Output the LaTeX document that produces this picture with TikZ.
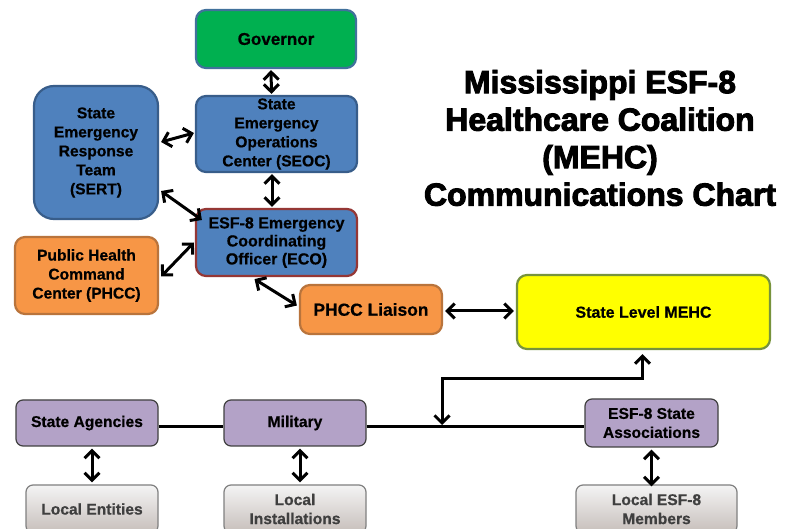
\documentclass[tikz,border=0pt]{standalone}
\usepackage{fontspec}
\setmainfont[BoldFeatures={FakeBold=0.6}]{Liberation Sans}
\newfontfamily\titlefont[BoldFeatures={FakeBold=3}]{Liberation Sans}
\usetikzlibrary{arrows.meta}
\definecolor{govgreen}{HTML}{00B050}
\definecolor{govline}{HTML}{41719C}
\definecolor{bluefill}{HTML}{4F81BD}
\definecolor{blueline}{HTML}{385D8A}
\definecolor{redline}{HTML}{953735}
\definecolor{orfill}{HTML}{F79646}
\definecolor{orline}{HTML}{B9743C}
\definecolor{yelfill}{HTML}{FFFF00}
\definecolor{yelline}{HTML}{77933C}
\definecolor{purfill}{HTML}{B3A2C7}
\definecolor{purline}{HTML}{404040}
\definecolor{graytop}{HTML}{F4F4F4}
\definecolor{graybot}{HTML}{C6BEBA}
\definecolor{grayline}{HTML}{808080}
\definecolor{graytext}{HTML}{3F3F3F}
\tikzset{
  box/.style={rectangle, rounded corners=10pt, line width=2.2pt, align=center,
    inner sep=2pt, font=\fontsize{15.6}{19}\selectfont\bfseries},
  govbox/.style={box, fill=govgreen, draw=govline, font=\fontsize{17}{20}\selectfont\bfseries},
  bluebox/.style={box, fill=bluefill, draw=blueline},
  ecobox/.style={box, fill=bluefill, draw=redline, font=\fontsize{16}{18}\selectfont\bfseries},
  orbox/.style={box, fill=orfill, draw=orline},
  yelbox/.style={box, fill=yelfill, draw=yelline},
  purbox/.style={box, fill=purfill, draw=purline, line width=1.2pt, rounded corners=7pt},
  graybox/.style={box, top color=graytop, bottom color=graybot, draw=grayline, line width=1.2pt,
    rounded corners=7pt, text=graytext},
  tipx/.tip={Straight Barb[length=7.5pt,width=15pt,line width=3pt]},
  dbl/.style={line width=3pt, tipx-tipx},
  bus/.style={line width=3pt}
}
\begin{document}
\begin{tikzpicture}[x=1pt,y=-1pt]
\useasboundingbox (0,0) rectangle (788,529);
\clip (0,0) rectangle (788,529);
\fill[white] (0,0) rectangle (788,529);

% title
\node[align=center, font=\titlefont\fontsize{32}{37.5}\selectfont\bfseries, inner sep=0pt] (title) at (600,138)
  {Mississippi ESF-8\\Healthcare Coalition\\(MEHC)\\Communications Chart};

% upper boxes
\node[govbox, minimum width=160pt, minimum height=58pt] (gov) at (276,39) {Governor};
\node[bluebox, minimum width=161pt, minimum height=76pt] (seoc) at (276.5,134)
  {State\\Emergency\\Operations\\Center (SEOC)};
\node[bluebox, rounded corners=20pt, minimum width=124pt, minimum height=133pt] (sert) at (96,152.5)
  {State\\Emergency\\Response\\Team\\(SERT)};
\node[ecobox, minimum width=161pt, minimum height=67pt] (eco) at (276.5,242.5)
  {ESF-8 Emergency\\Coordinating\\Officer (ECO)};
\node[orbox, minimum width=143pt, minimum height=77pt] (phcc) at (86.5,275.5)
  {Public Health\\Command\\Center (PHCC)};
\node[orbox, minimum width=142pt, minimum height=49pt, font=\fontsize{17.4}{20}\selectfont\bfseries] (liaison) at (371,309.5)
  {PHCC Liaison};
\node[yelbox, minimum width=253pt, minimum height=74pt, font=\fontsize{16}{18}\selectfont\bfseries] (mehc) at (643.5,312)
  {State Level MEHC};

% lower boxes
\node[purbox, minimum width=142pt, minimum height=46pt] (sa) at (87,423) {State Agencies};
\node[purbox, minimum width=142pt, minimum height=46pt] (mil) at (295,423) {Military};
\node[purbox, minimum width=133pt, minimum height=48pt] (esf) at (651.5,423) {ESF-8 State\\Associations};
\node[graybox, minimum width=132pt, minimum height=48pt] (le) at (92,509) {Local Entities};
\node[graybox, minimum width=142pt, minimum height=48pt] (li) at (295,509) {Local\\Installations};
\node[graybox, minimum width=161pt, minimum height=48pt] (lem) at (656.5,509) {Local ESF-8\\Members};

% connectors
\draw[dbl] ([xshift=-5pt,yshift=-1pt]gov.south) -- ([xshift=-5pt,yshift=1pt]seoc.north);
\draw[dbl] ([xshift=-4.5pt,yshift=-1pt]seoc.south) -- ([xshift=-4.5pt,yshift=1pt]eco.north);
\draw[dbl] ([xshift=2pt,yshift=10.5pt]sert.east) -- ([xshift=-1pt,yshift=1pt]seoc.west);
\draw[dbl] ([xshift=2pt,yshift=-38.5pt]sert.east) -- ([xshift=7pt,yshift=22.5pt]eco.west);
\draw[dbl] ([xshift=2pt,yshift=-1pt]phcc.east) -- ([xshift=-1pt]eco.west);
\draw[dbl] ([xshift=-22pt,yshift=-2pt]eco.south) -- ([xshift=-2pt,yshift=4pt]liaison.west);
\draw[dbl] ([xshift=2pt,yshift=-1.5pt]liaison.east) -- ([xshift=-2pt,yshift=-1.5pt]liaison.east -| mehc.west);

% bus
\coordinate (j) at (442,427);
\draw[bus] ([yshift=-4pt]sa.east) -- ([yshift=-4pt]mil.west);
\draw[bus] ([yshift=-4pt]mil.east) -- ([yshift=-4pt]esf.west);
\draw[dbl] ([yshift=2pt]j) -- ++(0,-46) -| ([xshift=-1pt,yshift=-4pt]mehc.south);

% down arrows
\draw[dbl] ([yshift=-2pt]le.north |- sa.south) -- ([yshift=2pt]le.north);
\draw[dbl] ([xshift=5pt,yshift=-2pt]mil.south) -- ([xshift=5pt,yshift=2pt]li.north);
\draw[dbl] ([yshift=-2pt]esf.south) -- ([yshift=-2pt]esf.south |- lem.north) ;
\end{tikzpicture}
\end{document}
